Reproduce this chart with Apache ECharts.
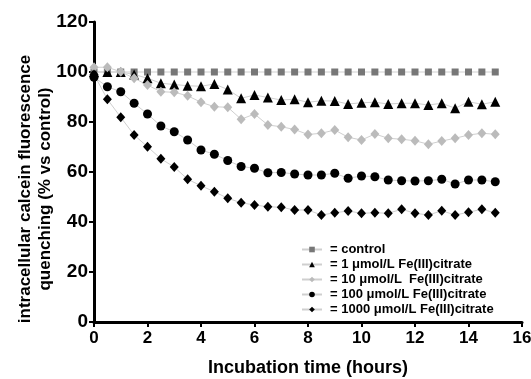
<!DOCTYPE html>
<html>
<head>
<meta charset="utf-8">
<script src="https://cdn.jsdelivr.net/npm/echarts@6/dist/echarts.min.js"></script>
<style>
  html, body { margin: 0; padding: 0; background: #fff; }
  #chart { width: 531px; height: 379px; }
</style>
</head>
<body>
<div id="chart"></div>
<script>
// 时间点（小时）
const hours = [0, 0.5, 1, 1.5, 2, 2.5, 3, 3.5, 4, 4.5, 5, 5.5, 6, 6.5, 7, 7.5,
  8, 8.5, 9, 9.5, 10, 10.5, 11, 11.5, 12, 12.5, 13, 13.5, 14, 14.5, 15];

const control = [100, 100, 100, 100, 100, 100, 100, 100, 100, 100, 100, 100, 100, 100, 100, 100,
  100, 100, 100, 100, 100, 100, 100, 100, 100, 100, 100, 100, 100, 100, 100];
const fe1 = [100, 100, 100, 99, 97.5, 95.5, 95, 94.5, 94.3, 95.2, 93, 89.5, 90.8, 89.8, 88.8, 89.1,
  87.9, 88.5, 88.4, 87.2, 87.7, 87.9, 87.2, 87.5, 87.5, 86.8, 87.5, 85.5, 88.1, 87.1, 88.1];
const fe10 = [101.9, 101.9, 100.1, 97.5, 94.8, 92.1, 91.9, 90.5, 87.9, 86.1, 85.9, 81.1, 83.2, 78.8, 78.1, 77,
  75, 75.5, 76.8, 73.9, 72.8, 75.2, 73.5, 73.1, 72.5, 71.1, 72.4, 73.5, 74.8, 75.5, 75.1];
const fe100 = [97.9, 94.1, 92.1, 87.5, 83.2, 78.4, 76.1, 72.8, 68.8, 67.1, 64.6, 62.2, 61.5, 59.7, 59.8, 59.2,
  58.8, 58.8, 59.5, 57.5, 58.4, 58.1, 56.8, 56.5, 56.4, 56.5, 57.1, 55.2, 56.8, 56.8, 56.1];
const fe1000 = [99, 89.1, 81.9, 74.8, 70.1, 65.3, 62, 57.1, 54.5, 52.1, 49.5, 47.7, 46.8, 46.1, 45.9, 44.8,
  44.8, 42.8, 43.7, 44.4, 43.5, 43.7, 43.5, 45.1, 43.5, 42.8, 44.5, 42.8, 43.9, 45.1, 43.7];

const seriesNames = [
  '= control',
  '= 1 \u03bcmol/L Fe(III)citrate',
  '= 10 \u03bcmol/L  Fe(III)citrate',
  '= 100 \u03bcmol/L Fe(III)citrate',
  '= 1000 \u03bcmol/L Fe(III)citrate'
];

const font = '"Liberation Sans", Arial, sans-serif';

function makeSeries(name, values, symbol, size, color) {
  return {
    name: name,
    type: 'line',
    data: values.map((v, i) => [hours[i], v]),
    symbol: symbol,
    symbolSize: size,
    showAllSymbol: true,
    lineStyle: { color: '#cfcfcf', width: 1 },
    itemStyle: { color: color },
    emphasis: { disabled: true }
  };
}

const chart = echarts.init(document.getElementById('chart'));

const option = {
  backgroundColor: '#fff',
  animation: false,
  grid: { left: 94, right: 9, top: 22, bottom: 57, outerBoundsMode: 'none' },
  legend: {
    orient: 'vertical',
    left: 296,
    top: 238,
    itemWidth: 20,
    itemHeight: 7,
    itemGap: 2,
    textStyle: { fontFamily: font, fontWeight: 'bold', fontSize: 13, color: '#000', lineHeight: 13, padding: [0, 0, 0, 3] },
    data: seriesNames
  },
  xAxis: {
    type: 'value',
    min: 0,
    max: 16,
    interval: 2,
    name: 'Incubation time (hours)',
    nameLocation: 'middle',
    nameGap: 37,
    nameTextStyle: { fontFamily: font, fontWeight: 'bold', fontSize: 18, color: '#000' },
    axisLine: { lineStyle: { color: '#000', width: 3 } },
    axisTick: { length: 5, lineStyle: { color: '#000', width: 2 } },
    axisLabel: { margin: 8, fontFamily: font, fontWeight: 'bold', fontSize: 17, color: '#000' },
    splitLine: { show: false }
  },
  yAxis: {
    type: 'value',
    min: 0,
    max: 120,
    interval: 20,
    axisLine: { show: true, lineStyle: { color: '#000', width: 3 } },
    axisTick: { show: true, length: 5, lineStyle: { color: '#000', width: 2 } },
    axisLabel: { margin: 6, fontFamily: font, fontWeight: 'bold', fontSize: 19, color: '#000' },
    splitLine: { show: false }
  },
  graphic: [{
    type: 'text',
    x: 35,
    y: 189,
    rotation: Math.PI / 2,
    style: {
      text: 'intracellular calcein fluorescence\nquenching (% vs control)',
      font: 'bold 17px ' + font,
      fill: '#000',
      align: 'center',
      verticalAlign: 'middle',
      lineHeight: 20
    }
  }],
  series: [
    makeSeries(seriesNames[0], control, 'rect', 7, '#777'),
    makeSeries(seriesNames[1], fe1, 'triangle', 10, '#000'),
    makeSeries(seriesNames[2], fe10, 'diamond', [9, 10], '#bbb'),
    makeSeries(seriesNames[3], fe100, 'circle', 9, '#000'),
    makeSeries(seriesNames[4], fe1000, 'diamond', [9, 10], '#000')
  ]
};

chart.setOption(option);
</script>
</body>
</html>
